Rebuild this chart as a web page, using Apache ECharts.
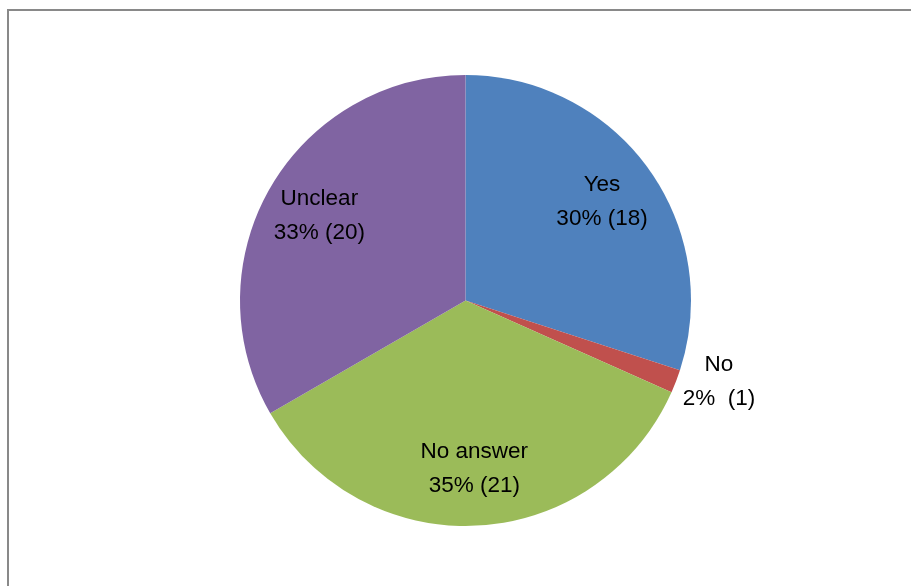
<!DOCTYPE html>
<html>
<head>
<meta charset="utf-8">
<script src="https://cdn.jsdelivr.net/npm/echarts@6/dist/echarts.min.js"></script>
<style>
html,body{margin:0;padding:0;background:#fff;}
#c{width:911px;height:586px;}
</style>
</head>
<body>
<div id="c"></div>
<script>
var categories = ['Yes', 'No', 'No answer', 'Unclear'];
var values = [18, 1, 21, 20];
var colors = ['#4F81BD', '#C0504D', '#9BBB59', '#8064A2'];

var chart = echarts.init(document.getElementById('c'));
var total = values.reduce(function (a, b) { return a + b; }, 0);
var FONT = '"Liberation Sans", Arial, sans-serif';

var baseData = categories.map(function (c, i) {
  return { name: c, value: values[i], itemStyle: { color: colors[i] } };
});
var labelData = categories.map(function (c, i) {
  var d = { name: c, value: values[i] };
  if (c === 'No') {
    d.label = {
      position: 'outside',
      formatter: function (p) {
        return '{a|' + p.name + '}\n{a|' + Math.round(p.value / total * 100) + '%  (' + p.value + ')}';
      },
      rich: { a: { width: 74, align: 'center', fontSize: 22.5, lineHeight: 34, color: '#000', fontFamily: FONT } }
    };
    d.labelLine = { show: false, length: 1, length2: 0 };
  }
  return d;
});

chart.setOption({
  backgroundColor: '#fff',
  animation: false,
  graphic: [{
    type: 'rect',
    shape: { x: 8, y: 10, width: 960, height: 640 },
    style: { fill: 'none', stroke: '#898989', lineWidth: 2 },
    silent: true
  }],
  series: [{
    type: 'pie',
    center: [465.5, 300.5],
    radius: 225.5,
    startAngle: 90,
    clockwise: true,
    label: { show: false },
    labelLine: { show: false },
    emphasis: { disabled: true },
    itemStyle: { borderWidth: 0 },
    data: baseData
  }, {
    type: 'pie',
    center: [465.5, 300.5],
    radius: [106, 225.5],
    startAngle: 90,
    clockwise: true,
    silent: true,
    emphasis: { disabled: true },
    itemStyle: { color: 'rgba(0,0,0,0)', borderWidth: 0 },
    label: {
      show: true,
      position: 'inside',
      color: '#000',
      fontSize: 22.5,
      lineHeight: 34,
      fontFamily: FONT,
      formatter: function (p) {
        return p.name + '\n' + Math.round(p.value / total * 100) + '% (' + p.value + ')';
      }
    },
    labelLine: { show: false },
    data: labelData
  }]
});
</script>
</body>
</html>
